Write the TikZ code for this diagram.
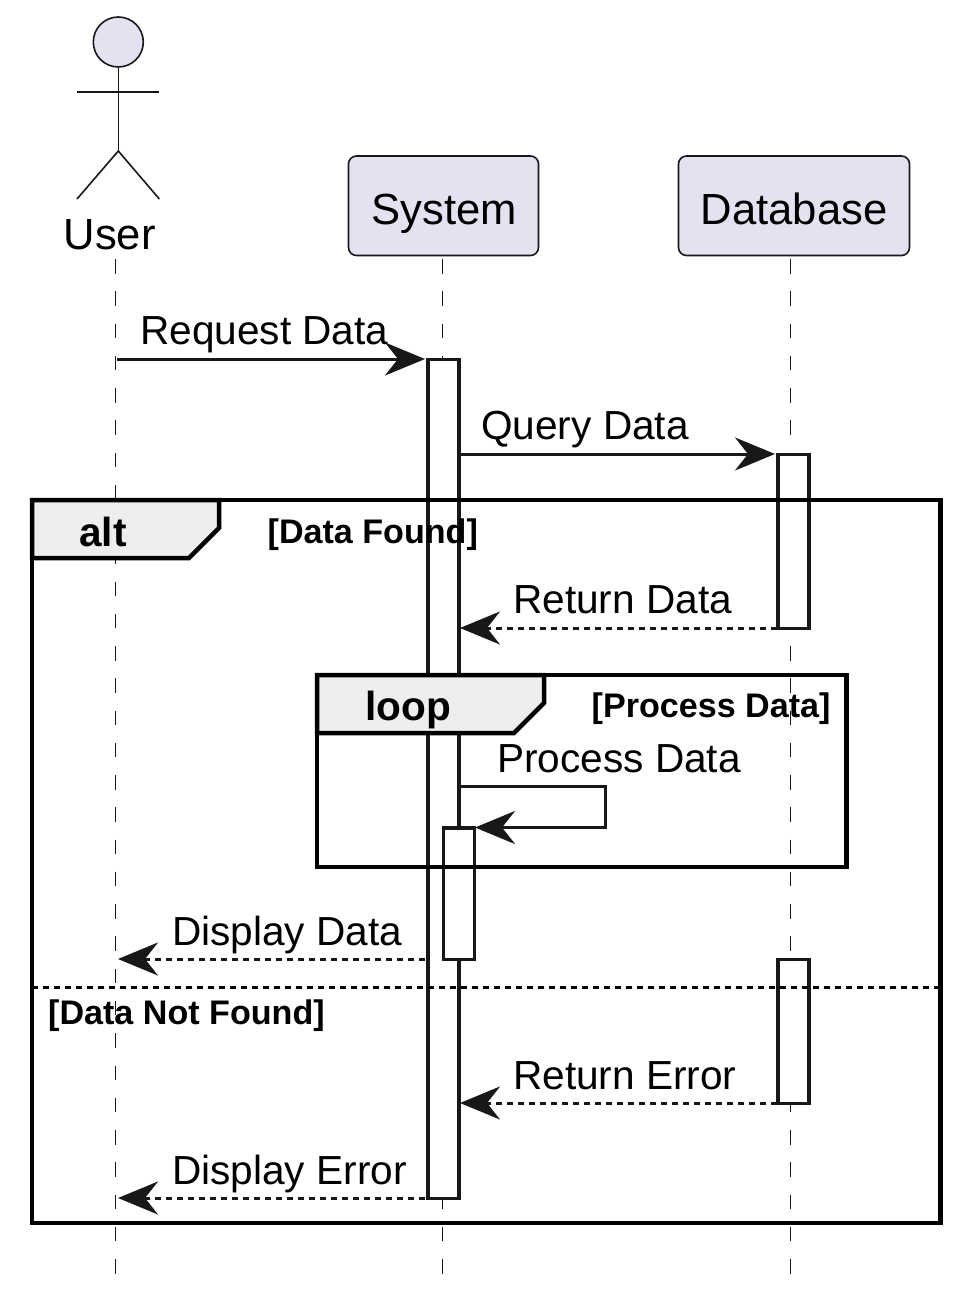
\documentclass[tikz,border=0pt]{standalone}
\usepackage{fontspec}
\setmainfont{Liberation Sans}
\usetikzlibrary{arrows.meta,calc}
\definecolor{ink}{HTML}{181818}
\definecolor{partfill}{HTML}{E2E2F0}
\definecolor{tabfill}{HTML}{EEEEEE}
\newcommand{\actorfont}{\fontsize{43.6}{50}\selectfont}
\newcommand{\msgfont}{\fontsize{40.6}{48}\selectfont}
\newcommand{\condfont}{\fontsize{34.1}{40}\selectfont\bfseries}
\newcommand{\tabfont}{\fontsize{40.6}{48}\selectfont\bfseries}
\tikzset{
  x=1pt,y=-1pt,
  lifeline/.style={draw=ink,line width=1.6pt,dash pattern=on 14.5pt off 17.76pt},
  participant/.style={draw=ink,line width=1.6pt,fill=partfill,rounded corners=8pt,inner sep=0pt,outer sep=0pt,anchor=north west,font=\actorfont,text=black},
  activation/.style={draw=ink,line width=3.3pt,fill=white,inner sep=0pt,outer sep=0pt,minimum width=31pt,anchor=north west},
  actorline/.style={draw=ink,line width=1.6pt},
  msg/.style={draw=ink,line width=3pt,-{Stealth[length=40pt,width=33pt,inset=13pt,fill=ink]}},
  reply/.style={msg,dash pattern=on 6pt off 5pt},
  frameline/.style={draw=black,line width=4.8pt},
  tab/.style={draw=black,line width=4.5pt,fill=tabfill,line join=miter},
  msgtext/.style={anchor=base west,inner sep=0pt,font=\msgfont,text=black},
  condtext/.style={anchor=base west,inner sep=0pt,font=\condfont,text=black},
  tabtext/.style={anchor=base west,inner sep=0pt,font=\tabfont,text=black},
}
\begin{document}
\begin{tikzpicture}
\useasboundingbox (0,0) rectangle (959,1295);
% lifelines
\coordinate (uTop) at (115.3,259); \coordinate (uEnd) at (115.3,1275);
\coordinate (sTop) at (442.4,259); \coordinate (sEnd) at (442.4,1275);
\coordinate (dTop) at (790.3,259); \coordinate (dEnd) at (790.3,1275);
\draw[lifeline] (uTop) -- (uEnd);
\draw[lifeline] (sTop) -- (sEnd);
\draw[lifeline] (dTop) -- (dEnd);
% actor
\node[circle,draw=ink,line width=1.6pt,fill=partfill,minimum size=50pt,inner sep=0pt,outer sep=0pt] (head) at (118.3,42) {};
\coordinate (arm1) at (77,92); \coordinate (arm2) at (159.3,92);
\coordinate (hip) at (118.3,151); \coordinate (leg1) at (77,199); \coordinate (leg2) at (159.3,199);
\draw[actorline] (head.south) -- (hip);
\draw[actorline] (arm1) -- (arm2);
\draw[actorline] (leg1) -- (hip) -- (leg2);
\node[anchor=base west,inner sep=0pt,font=\actorfont,text=black] (userLabel) at (63.5,249) {User};
% participants
\node[participant,minimum width=190pt,minimum height=99.5pt] (system) at (348.5,156) {};
\node[anchor=base,inner sep=0pt,font=\actorfont,text=black] (systemLabel) at (444,224) {System};
\node[participant,minimum width=231pt,minimum height=99.5pt] (database) at (678.5,156) {};
\node[anchor=base,inner sep=0pt,font=\actorfont,text=black] (databaseLabel) at (794,224) {Database};
% activations
\node[activation,minimum height=839pt] (aS) at (428,359.3) {};
\node[activation,minimum height=174pt] (aD1) at (778,454.3) {};
\node[activation,minimum height=131.5pt] (aS2) at (443.2,828) {};
\node[activation,minimum height=144pt] (aD2) at (778,959.3) {};
% free ends
\coordinate (m1s) at (117,359); \coordinate (m1e) at (425,359);
\coordinate (m2s) at (460,454); \coordinate (m2e) at (775,454);
\coordinate (m3s) at (777,628); \coordinate (m3e) at (460,628);
\coordinate (m4s) at (460,786.5); \coordinate (m4a) at (605.5,786.5); \coordinate (m4b) at (605.5,827.5); \coordinate (m4e) at (475,827.5);
\coordinate (m5s) at (425,959); \coordinate (m5e) at (118,959);
\coordinate (m6s) at (777,1103); \coordinate (m6e) at (460,1103);
\coordinate (m7s) at (425,1198); \coordinate (m7e) at (118,1198);
% messages
\draw[msg] (m1s) -- (m1e);
\draw[msg] (m2s) -- (m2e);
\draw[reply] (m3s) -- (m3e);
\draw[msg] (m4s) -- (m4a) -- (m4b) -- (m4e);
\draw[reply] (m5s) -- (m5e);
\draw[reply] (m6s) -- (m6e);
\draw[reply] (m7s) -- (m7e);
\node[msgtext] (t1) at (140,344.2) {Request Data};
\node[msgtext] (t2) at (481,439.2) {Query Data};
\node[msgtext] (t3) at (513,613.2) {Return Data};
\node[msgtext] (t4) at (497,772.2) {Process Data};
\node[msgtext] (t5) at (172,945.2) {Display Data};
\node[msgtext] (t6) at (513,1089.2) {Return Error};
\node[msgtext] (t7) at (172,1184.2) {Display Error};
% alt frame
\draw[frameline] (32,500) rectangle (940.6,1223);
\draw[tab] (32,500) -- (219,500) -- (219,528) -- (189,558) -- (32,558) -- cycle;
\node[tabtext] (altLabel) at (79,546.5) {alt};
\node[condtext] (altCond) at (267.5,543) {[Data Found]};
\draw[draw=black,line width=3pt,dash pattern=on 6pt off 5pt] (32,987) -- (940.6,987);
\node[condtext] (elseCond) at (48,1024) {[Data Not Found]};
% loop frame
\draw[frameline] (317,675) rectangle (846.6,867);
\draw[tab] (317,675) -- (544,675) -- (544,703) -- (514,733) -- (317,733) -- cycle;
\node[tabtext] (loopLabel) at (365,720.5) {loop};
\node[condtext] (loopCond) at (591.5,717) {[Process Data]};
\end{tikzpicture}
\end{document}
